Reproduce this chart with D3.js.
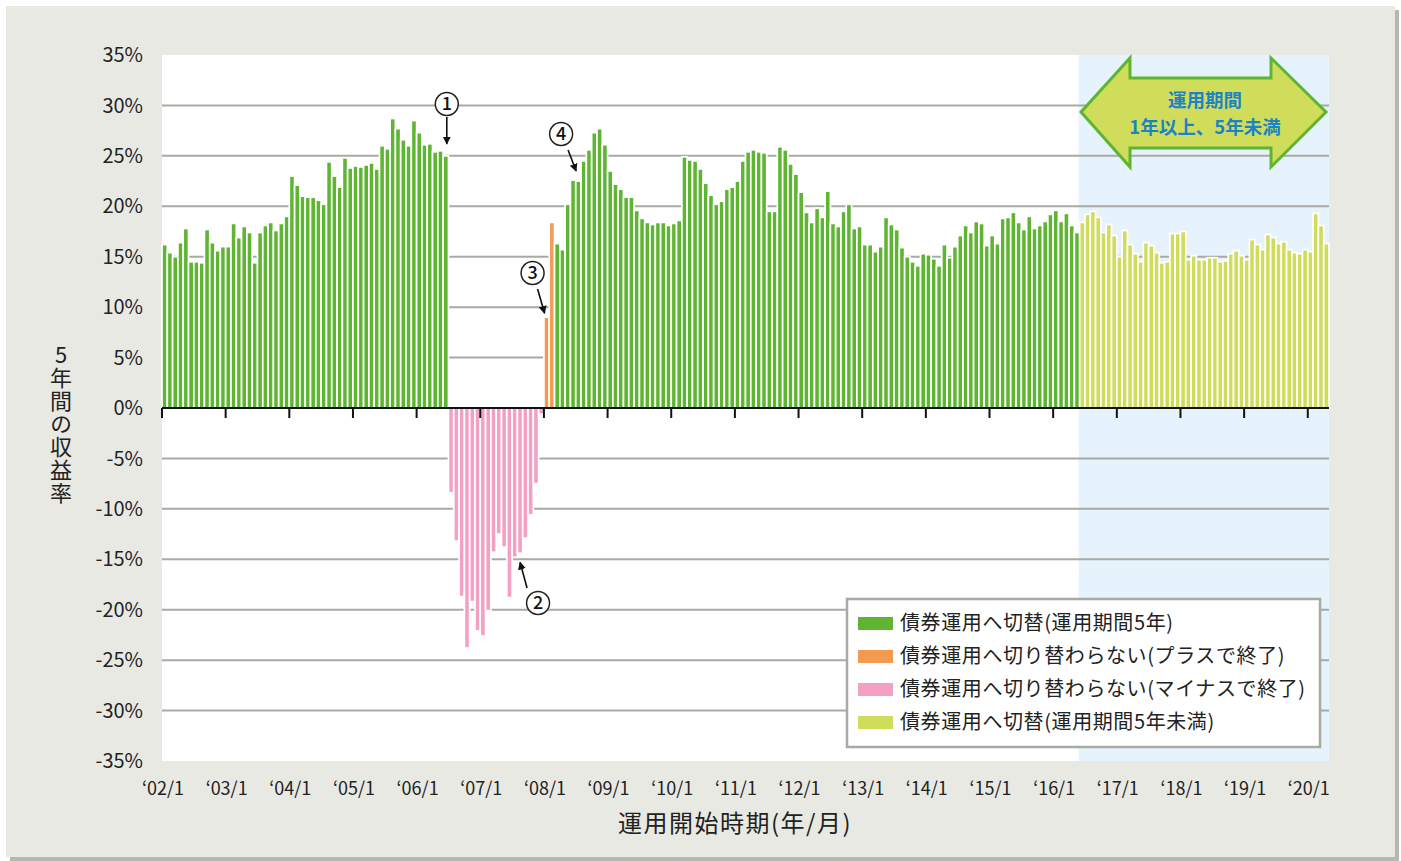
<!DOCTYPE html>
<html>
<head>
<meta charset="utf-8">
<script src="https://cdn.jsdelivr.net/npm/d3@7"></script>
<style>
  body { margin: 0; background: #ffffff; }
  svg text { font-family: "Noto Sans CJK JP", "Noto Sans", sans-serif; }
</style>
</head>
<body>
<div id="chart"></div>
<script>
var width = 1401,
    height = 861;

// 5-year returns (%) by start month, 2002/1 .. 2020/4
var ret2002to2006 = [16.2, 15.4, 15.0, 16.4, 17.8, 14.5, 14.5, 14.4, 17.7, 16.4, 15.6, 16.0,
    16.0, 18.3, 16.9, 18.0, 17.4, 14.4, 17.4, 18.1, 18.4, 17.6, 18.3, 19.0,
    23.0, 22.1, 21.0, 20.9, 20.9, 20.6, 20.2, 24.4, 23.0, 21.9, 24.8, 23.8,
    24.0, 23.9, 24.1, 24.3, 23.7, 26.0, 25.7, 28.7, 27.7, 26.6, 26.0, 28.5,
    27.3, 26.1, 26.2, 25.4, 25.5, 25.0];
var retMinus = [-8.4, -13.2, -18.7, -23.8, -19.2, -22.1, -22.6, -20.1, -14.3, -12.5,
    -13.8, -18.8, -14.8, -14.4, -12.9, -10.6, -7.5, -0.6];
var retPlus = [9.0, 18.4];
var ret2008to2016 = [16.3, 15.7, 20.2, 22.6, 22.5, 24.5, 25.6, 27.3, 27.7, 26.1,
    23.5, 22.2, 21.7, 20.9, 20.9, 19.6, 18.8, 18.4, 18.2, 18.4,
    18.4, 18.1, 18.3, 18.6, 24.9, 24.6, 24.5, 23.7, 22.3, 21.1,
    20.2, 20.5, 21.7, 21.9, 22.5, 24.5, 25.4, 25.6, 25.4, 25.3,
    19.5, 19.5, 25.9, 25.6, 24.2, 23.2, 21.4, 19.4, 18.4, 19.8,
    18.9, 21.5, 18.3, 18.0, 19.5, 20.2, 17.8, 18.0, 16.2, 16.2,
    15.5, 16.0, 18.9, 18.2, 17.7, 15.9, 15.0, 14.5, 14.1, 15.3,
    15.2, 14.8, 14.1, 16.2, 14.9, 16.0, 17.1, 18.1, 17.4, 18.5,
    18.3, 16.1, 17.1, 16.3, 18.8, 18.9, 19.4, 18.4, 17.7, 19.0,
    17.8, 18.1, 18.5, 19.2, 19.6, 18.5, 19.3, 18.1, 17.4];
var retShort = [18.4, 19.2, 19.5, 18.9, 17.4, 18.2, 17.1, 15.0, 17.6, 16.2,
    15.3, 14.5, 16.4, 16.1, 15.4, 14.4, 14.5, 17.3, 17.3, 17.5,
    14.7, 15.1, 14.7, 14.7, 14.9, 14.9, 14.5, 14.6, 15.3, 15.6,
    15.1, 14.7, 16.7, 16.2, 15.7, 17.2, 16.9, 16.3, 16.5, 15.7,
    15.4, 15.3, 15.7, 15.5, 19.3, 18.1, 16.3];

var legendLabels = ["債券運用へ切替(運用期間5年)",
    "債券運用へ切り替わらない(プラスで終了)",
    "債券運用へ切り替わらない(マイナスで終了)",
    "債券運用へ切替(運用期間5年未満)"];
var colors = ["#5db532", "#f39a50", "#f3a0c4", "#cfdd5b"];

var yTicks = [35, 30, 25, 20, 15, 10, 5, 0, -5, -10, -15, -20, -25, -30, -35];
var xTickLabels = ["‘02/1", "‘03/1", "‘04/1", "‘05/1", "‘06/1", "‘07/1", "‘08/1", "‘09/1", "‘10/1",
    "‘11/1", "‘12/1", "‘13/1", "‘14/1", "‘15/1", "‘16/1", "‘17/1", "‘18/1", "‘19/1", "‘20/1"];

// build bar table: value + category
var groups = [[ret2002to2006, 0], [retMinus, 2], [retPlus, 1], [ret2008to2016, 0], [retShort, 3]];
var bars = [];
groups.forEach(function(g) {
    g[0].forEach(function(v) { bars.push({ v: v, c: g[1] }); });
});
bars.forEach(function(d, i) { d.i = i; });
var shortStart = ret2002to2006.length + retMinus.length + retPlus.length + ret2008to2016.length;

var svg = d3.select("#chart").append("svg")
    .attr("width", width)
    .attr("height", height);

// outer panel
svg.append("rect").attr("x", 10).attr("y", 10).attr("width", 1389).attr("height", 851).attr("fill", "#b7b7b0");
svg.append("rect").attr("x", 6).attr("y", 6).attr("width", 1389).attr("height", 851).attr("fill", "#e9e9e4");

var plotL = 162, plotR = 1329, plotT = 55, plotB = 761;

var x = d3.scaleBand().domain(d3.range(bars.length)).range([plotL, plotR]).paddingInner(0).paddingOuter(0);
var y = d3.scaleLinear().domain([-35, 35]).range([plotB, plotT]);

svg.append("rect").attr("x", plotL).attr("y", plotT).attr("width", plotR - plotL).attr("height", plotB - plotT)
    .attr("fill", "#ffffff");
svg.append("rect").attr("x", x(shortStart) - 1).attr("y", plotT).attr("width", plotR - x(shortStart) + 1)
    .attr("height", plotB - plotT).attr("fill", "#e6f3fc");

// gridlines
svg.append("g").selectAll("line").data(yTicks.filter(function(t) { return t != 0 && t != 35 && t != -35; }))
    .enter().append("line")
    .attr("x1", plotL).attr("x2", plotR)
    .attr("y1", function(d) { return y(d); }).attr("y2", function(d) { return y(d); })
    .attr("stroke", "#a9aaa3").attr("stroke-width", 2);

// y labels
svg.append("g").selectAll("text").data(yTicks).enter().append("text")
    .attr("x", 143).attr("y", function(d) { return y(d); })
    .attr("dy", "0.36em")
    .attr("text-anchor", "end")
    .style("font-size", "20px").attr("fill", "#222")
    .text(function(d) { return d + "%"; });

// bars
svg.append("g").selectAll("rect").data(bars).enter().append("rect")
    .attr("x", function(d) { return x(d.i); })
    .attr("width", x.bandwidth())
    .attr("y", function(d) { return y(Math.max(0, d.v)); })
    .attr("height", function(d) { return Math.abs(y(d.v) - y(0)); })
    .attr("fill", function(d) { return colors[d.c]; })
    .attr("stroke", "#ffffff")
    .attr("stroke-width", 1.7);

// zero axis + ticks
svg.append("line").attr("x1", plotL).attr("x2", plotR).attr("y1", y(0)).attr("y2", y(0))
    .attr("stroke", "#111").attr("stroke-width", 2);
svg.append("g").selectAll("line").data(xTickLabels).enter().append("line")
    .attr("x1", function(d, i) { return x(i * 12); }).attr("x2", function(d, i) { return x(i * 12); })
    .attr("y1", y(0)).attr("y2", y(0) + 10)
    .attr("stroke", "#111").attr("stroke-width", 2);

// x labels
svg.append("g").selectAll("text").data(xTickLabels).enter().append("text")
    .attr("x", function(d, i) { return x(i * 12) + 1; })
    .attr("y", 795)
    .attr("text-anchor", "middle")
    .style("font-size", "18px").attr("fill", "#222")
    .text(function(d) { return d; });

svg.append("text").attr("x", 735).attr("y", 832).attr("text-anchor", "middle")
    .style("font-size", "24px").style("letter-spacing", "1.5px").attr("fill", "#222").text("運用開始時期(年/月)");

svg.append("text").attr("x", 61).attr("y", 344)
    .style("writing-mode", "vertical-rl")
    .style("text-orientation", "upright")
    .style("font-size", "22px").style("letter-spacing", "1px").attr("fill", "#222")
    .text("5年間の収益率");

// annotations
function circled(cx, cy, label) {
    svg.append("circle").attr("cx", cx).attr("cy", cy).attr("r", 11.5)
        .attr("fill", "#fff").attr("stroke", "#222").attr("stroke-width", 1.5);
    svg.append("text").attr("x", cx).attr("y", cy).attr("dy", "0.36em").attr("text-anchor", "middle")
        .style("font-size", "18px").style("font-weight", "500").attr("fill", "#111").text(label);
}
svg.append("defs").append("marker").attr("id", "ah")
    .attr("viewBox", "0 0 10 10").attr("refX", 9).attr("refY", 5)
    .attr("markerWidth", 5).attr("markerHeight", 5).attr("orient", "auto")
    .append("path").attr("d", "M0,0L10,5L0,10z").attr("fill", "#111");
function arrow(x1, y1, x2, y2) {
    svg.append("line").attr("x1", x1).attr("y1", y1).attr("x2", x2).attr("y2", y2)
        .attr("stroke", "#111").attr("stroke-width", 1.6).attr("marker-end", "url(#ah)");
}
var c1 = x(53) + x.bandwidth() / 2;
circled(c1 + 1, 104, "1");
arrow(c1 + 1, 117, c1 + 1, y(bars[53].v) - 12);
var c2 = x(67) + x.bandwidth() / 2;
circled(c2 + 18, 603, "2");
arrow(c2 + 7, 588, c2, y(bars[67].v) + 9);
var c3 = x(72) + x.bandwidth() / 2;
circled(c3 - 14, 273, "3");
arrow(c3 - 9, 289, c3 - 2, y(bars[72].v) - 4);
var c4 = x(77) + x.bandwidth() / 2;
circled(c4 - 12, 134, "4");
arrow(c4 - 5, 150, c4 + 3, y(bars[77].v) - 9);

// double arrow label
var arrowPts = [[1081, 112], [1130, 58], [1130, 78], [1271, 78], [1271, 58], [1326, 112],
    [1271, 167], [1271, 148], [1130, 148], [1130, 167]];
svg.append("path").attr("d", d3.line()(arrowPts) + "Z")
    .attr("fill", "#cfdd5b").attr("stroke", "#5db532").attr("stroke-width", 3)
    .attr("stroke-linejoin", "miter");
svg.append("text").attr("x", 1205).attr("y", 107).attr("text-anchor", "middle")
    .style("font-size", "18.5px").style("font-weight", "600").attr("fill", "#1b83c6").text("運用期間");
svg.append("text").attr("x", 1205).attr("y", 134).attr("text-anchor", "middle")
    .style("font-size", "18.5px").style("font-weight", "600").attr("fill", "#1b83c6").text("1年以上、5年未満");

// legend
var lg = svg.append("g").attr("transform", "translate(847,599)");
lg.append("rect").attr("width", 473).attr("height", 148).attr("fill", "#fff")
    .attr("stroke", "#a9aaa3").attr("stroke-width", 2.5);
legendLabels.forEach(function(t, i) {
    lg.append("rect").attr("x", 11).attr("y", 18 + i * 33).attr("width", 35).attr("height", 13)
        .attr("fill", colors[i]);
    lg.append("text").attr("x", 53).attr("y", 24 + i * 33).attr("dy", "0.36em")
        .style("font-size", "20px").style("letter-spacing", "0.6px").attr("fill", "#222").text(t);
});
</script>
</body>
</html>
